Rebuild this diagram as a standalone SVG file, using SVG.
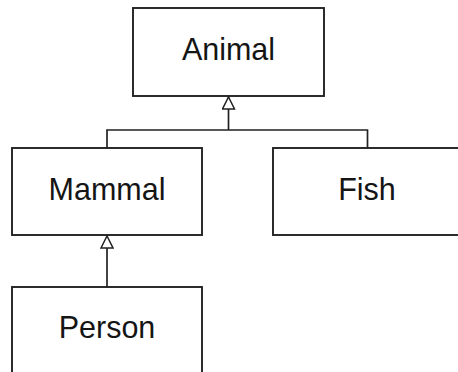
<svg xmlns="http://www.w3.org/2000/svg" width="458" height="372" viewBox="0 0 458 372">
<defs>
<style>
.box{fill:#fff;stroke:#222;stroke-width:1.9}
.lbl{font-family:"Liberation Sans",Arial,sans-serif;font-size:30.5px;fill:#151515;text-anchor:middle}
.conn{fill:none;stroke:#222;stroke-width:1.7}
</style>
<marker id="tri" viewBox="0 0 14 14" refX="13" refY="7" markerWidth="14" markerHeight="14" markerUnits="userSpaceOnUse" orient="auto">
<path d="M1,1 L13,7 L1,13 Z" fill="#fff" stroke="#222" stroke-width="1.5"/>
</marker>
</defs>
<rect width="458" height="372" fill="#fff"/>
<g id="connectors">
<path class="conn" d="M107,148 V130 H367.5 V148 M228.5,130 V97" marker-end="url(#tri)"/>
<path class="conn" d="M107,287 V236" marker-end="url(#tri)"/>
</g>
<g id="animal"><rect class="box" x="133" y="8" width="191" height="88"/><text class="lbl" x="228.5" y="60">Animal</text></g>
<g id="mammal"><rect class="box" x="12" y="148" width="190" height="87"/><text class="lbl" x="107" y="200">Mammal</text></g>
<g id="fish"><rect class="box" x="273" y="148" width="190" height="87"/><text class="lbl" x="367" y="200">Fish</text></g>
<g id="person"><rect class="box" x="12" y="287" width="190" height="100"/><text class="lbl" x="107" y="338">Person</text></g>
</svg>
